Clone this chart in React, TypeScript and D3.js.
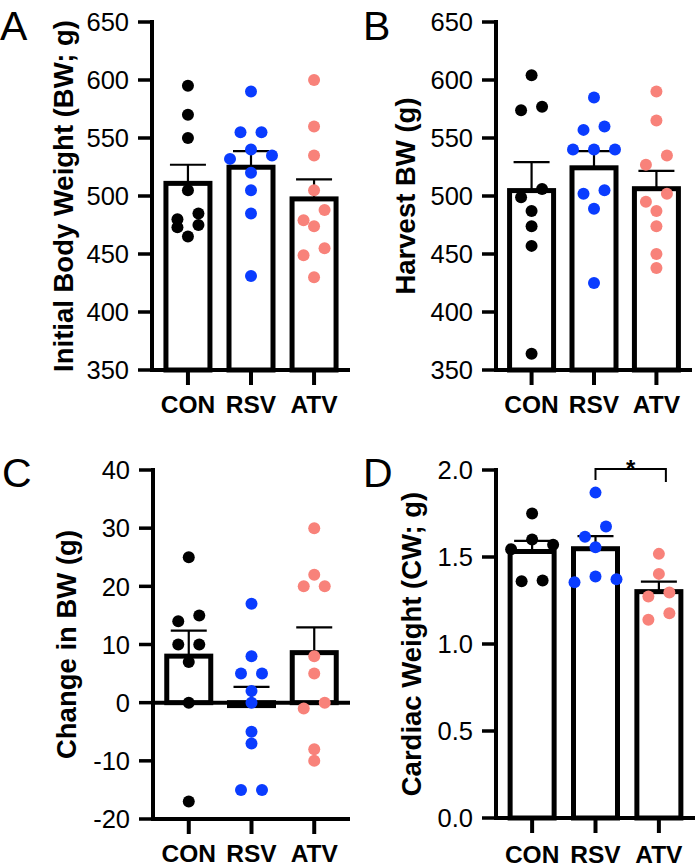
import * as d3 from "d3";

// group order and colours
const groups = ["CON", "RSV", "ATV"];
const groupColors = ["#000000", "#0a3cff", "#f8827a"];

// initial body weight (g)
const initialCon = [595, 570, 550, 505, 485, 480, 475, 473, 465];
const initialRsv = [590, 555, 555, 540, 535, 532, 520, 505, 485, 431];
const initialAtv = [600, 560, 535, 505, 488, 479, 474, 455, 449, 430];

// harvest body weight (g)
const harvestCon = [604, 577, 574, 506, 499, 487, 474, 457, 364];
const harvestRsv = [585, 560, 557, 540, 540, 540, 505, 502, 489, 425];
const harvestAtv = [590, 565, 535, 527, 502, 495, 487, 474, 450, 438];

// change in body weight (g)
const changeCon = [25, 15, 14, 10, 10, 7, 0, -17];
const changeRsv = [17, 8, 5, 5, 2, 0, -5, -7, -15, -15];
const changeAtv = [30, 22, 20, 20, 8, 5, 0, -1, -8, -10];

// cardiac weight (g)
const cardiacCon = [1.75, 1.6, 1.57, 1.545, 1.365, 1.36];
const cardiacRsv = [1.87, 1.675, 1.617, 1.556, 1.388, 1.372, 1.355];
const cardiacAtv = [1.518, 1.403, 1.296, 1.273, 1.177, 1.139];

const initialTicks = [350, 400, 450, 500, 550, 600, 650];
const harvestTicks = [350, 400, 450, 500, 550, 600, 650];
const changeTicks = [-20, -10, 0, 10, 20, 30, 40];
const cardiacTicks = [0, 0.5, 1, 1.5, 2];

// plain hyphen for negatives, like Prism
const fmtInt = (v: number) => d3.format("d")(v).replace("\u2212", "-");
const fmtOne = (v: number) => d3.format(".1f")(v).replace("\u2212", "-");

type Panel = {
  letter: string;
  letterX: number;
  letterY: number;
  title: string;
  titleGap: number;
  left: number;
  top: number;
  bottom: number;
  width: number;
  domain: [number, number];
  ticks: number[];
  format: (v: number) => string;
  series: number[][];
  labelY: number;
  bracket?: [number, number];
};

const panels: Panel[] = [
  {
    letter: "A", letterX: 0, letterY: 40,
    title: "Initial Body Weight (BW; g)", titleGap: 79,
    left: 152, top: 22, bottom: 370, width: 198,
    domain: [350, 650], ticks: initialTicks, format: fmtInt,
    series: [initialCon, initialRsv, initialAtv], labelY: 413,
  },
  {
    letter: "B", letterX: 363, letterY: 40,
    title: "Harvest BW (g)", titleGap: 81,
    left: 496, top: 22, bottom: 370, width: 196,
    domain: [350, 650], ticks: harvestTicks, format: fmtInt,
    series: [harvestCon, harvestRsv, harvestAtv], labelY: 413,
  },
  {
    letter: "C", letterX: 2, letterY: 487,
    title: "Change in BW (g)", titleGap: 77,
    left: 153, top: 470, bottom: 819, width: 197,
    domain: [-20, 40], ticks: changeTicks, format: fmtInt,
    series: [changeCon, changeRsv, changeAtv], labelY: 862,
  },
  {
    letter: "D", letterX: 363, letterY: 487,
    title: "Cardiac Weight (CW; g)", titleGap: 75,
    left: 496, top: 470, bottom: 818, width: 199,
    domain: [0, 2], ticks: cardiacTicks, format: fmtOne,
    series: [cardiacCon, cardiacRsv, cardiacAtv], labelY: 863,
    bracket: [1, 2],
  },
];

// Prism-like scatter: points closer than `near` px share a row and get spread sideways
function swarm(values: number[], y: (v: number) => number, step = 21, near = 11) {
  const sorted = [...values].sort((a, b) => b - a);
  const rows: number[][] = [];
  sorted.forEach((v) => {
    const row = rows[rows.length - 1];
    if (row && Math.abs(y(v) - y(row[0])) < near) row.push(v);
    else rows.push([v]);
  });
  const out: { v: number; dx: number }[] = [];
  rows.forEach((row) => {
    const n = row.length;
    row.forEach((v, i) => {
      const k = Math.ceil(i / 2) * (i % 2 === 1 ? 1 : -1);
      const dx = n % 2 === 1 ? k * step : (i % 2 === 0 ? 0.5 + i / 2 : -(0.5 + (i - 1) / 2)) * step;
      out.push({ v, dx });
    });
  });
  return out;
}

function ChartPanel({ p }: { p: Panel }) {
  const y = d3.scaleLinear().domain(p.domain).range([p.bottom, p.top]);
  const x = d3.scalePoint<string>().domain(groups).range([p.left, p.left + p.width]).padding(0.57);
  const base = Math.max(p.domain[0], 0);
  const right = p.left + p.width;
  const barW = 44;
  const midY = (p.top + p.bottom) / 2;

  const stats = p.series.map((vals) => {
    const mean = d3.mean(vals) as number;
    const sem = (d3.deviation(vals) as number) / Math.sqrt(vals.length);
    return { mean, sem };
  });

  return (
    <g>
      <text x={p.letterX} y={p.letterY} fontFamily="Liberation Sans" fontSize={41}>
        {p.letter}
      </text>
      <text
        transform={`translate(${p.left - p.titleGap},${midY}) rotate(-90)`}
        textAnchor="middle"
        fontFamily="Liberation Sans"
        fontWeight="bold"
        fontSize={27.5}
      >
        {p.title}
      </text>

      {/* bars */}
      {stats.map((s, i) => {
        const cx = x(groups[i]) as number;
        return (
          <rect
            key={`bar${i}`}
            x={cx - barW / 2}
            y={Math.min(y(s.mean), y(base))}
            width={barW}
            height={Math.abs(y(s.mean) - y(base))}
            fill="#fff"
            stroke="#000"
            strokeWidth={5}
          />
        );
      })}

      {/* y axis */}
      <line x1={p.left} x2={p.left} y1={p.top - 2} y2={p.bottom + 2} stroke="#000" strokeWidth={4} />
      {p.ticks.map((t) => (
        <g key={`t${t}`}>
          <line x1={p.left - 14} x2={p.left} y1={y(t)} y2={y(t)} stroke="#000" strokeWidth={3.5} />
          <text
            x={p.left - 23}
            y={y(t)}
            dy="0.36em"
            textAnchor="end"
            fontFamily="Liberation Sans"
            fontSize={25.5}
          >
            {p.format(t)}
          </text>
        </g>
      ))}

      {/* x axis, plus zero line when the range crosses zero */}
      <line x1={p.left} x2={right} y1={p.bottom} y2={p.bottom} stroke="#000" strokeWidth={4} />
      {p.domain[0] < 0 && (
        <line x1={p.left} x2={right} y1={y(0)} y2={y(0)} stroke="#000" strokeWidth={4} />
      )}
      {groups.map((g) => (
        <g key={`x${g}`}>
          <line x1={x(g)} x2={x(g)} y1={p.bottom} y2={p.bottom + 15} stroke="#000" strokeWidth={4} />
          <text
            x={x(g)}
            y={p.labelY}
            textAnchor="middle"
            fontFamily="Liberation Sans"
            fontWeight="bold"
            fontSize={24.5}
          >
            {g}
          </text>
        </g>
      ))}

      {/* SEM error bars */}
      {stats.map((s, i) => {
        const cx = x(groups[i]) as number;
        const yt = y(s.mean + s.sem);
        return (
          <g key={`err${i}`} stroke="#000" strokeWidth={2.2}>
            <line x1={cx} x2={cx} y1={y(s.mean)} y2={yt} />
            <line x1={cx - 18} x2={cx + 18} y1={yt} y2={yt} />
          </g>
        );
      })}

      {/* individual animals */}
      {p.series.map((vals, i) => {
        const cx = x(groups[i]) as number;
        return swarm(vals, y).map((d, j) => (
          <circle key={`pt${i}-${j}`} cx={cx + d.dx} cy={y(d.v)} r={6} fill={groupColors[i]} />
        ));
      })}

      {p.bracket && (() => {
        const x1 = x(groups[p.bracket[0]]) as number;
        const x2 = (x(groups[p.bracket[1]]) as number) + 7;
        const yb = p.top - 1;
        return (
          <g>
            <path
              d={`M${x1},${yb + 11}V${yb}H${x2}V${yb + 13}`}
              fill="none"
              stroke="#000"
              strokeWidth={2}
            />
            <text
              x={(x1 + x2) / 2}
              y={yb + 8}
              textAnchor="middle"
              fontFamily="Liberation Sans"
              fontWeight="bold"
              fontSize={24}
            >
              *
            </text>
          </g>
        );
      })()}
    </g>
  );
}

export default function App() {
  return (
    <svg
      width={699}
      height={868}
      style={{ position: "absolute", left: 0, top: 0, background: "#fff" }}
    >
      <rect width={699} height={868} fill="#fff" />
      {panels.map((p) => (
        <ChartPanel key={p.letter} p={p} />
      ))}
    </svg>
  );
}
